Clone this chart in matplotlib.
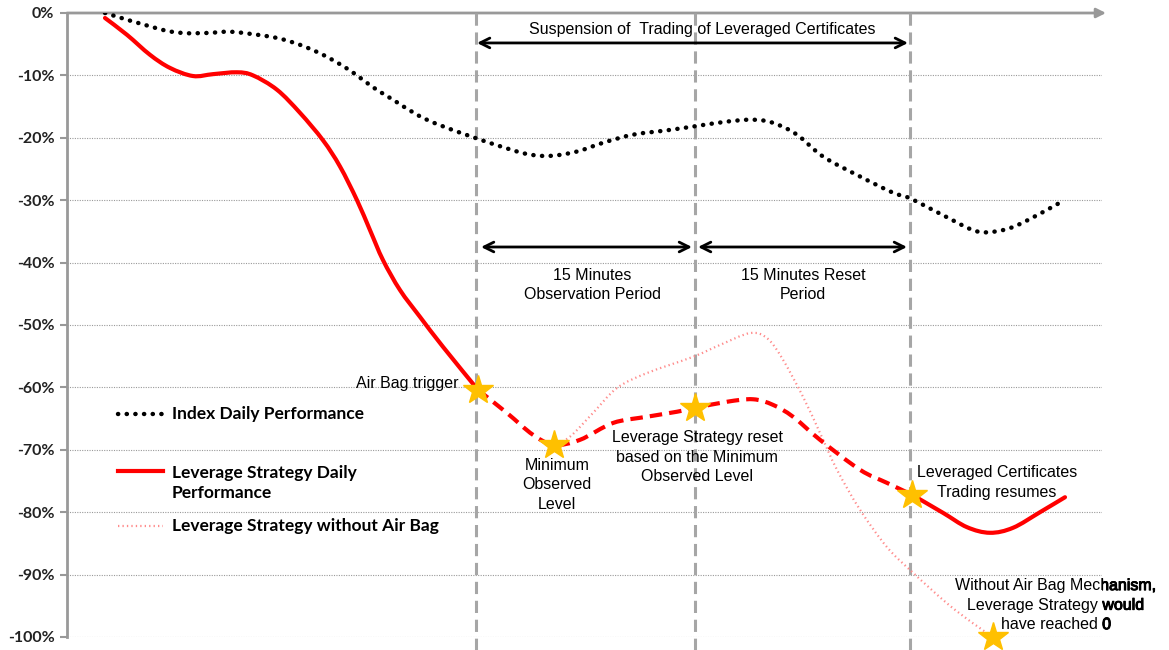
import matplotlib
matplotlib.use('Agg')
import numpy as np
import matplotlib.pyplot as plt
from matplotlib.lines import Line2D
from matplotlib.path import Path
from matplotlib.patches import PathPatch
from matplotlib.transforms import Bbox, TransformedBbox
import matplotlib.patheffects as pe

# x is a time axis in arbitrary units, y is performance in %
index_x = [105, 160, 183, 207, 230, 253, 277, 300, 323, 343, 357, 373, 393, 417, 437, 473,
           503, 527, 550, 577, 603, 633, 667, 693, 727, 753, 773, 797, 823, 860, 893, 910,
           943, 973, 990, 1013, 1043, 1063]
index_y = [0.0, -2.6, -3.2, -3.2, -3.0, -3.4, -4.0, -5.1, -6.7, -8.5, -10.0, -11.9, -13.9, -16.3, -17.8, -19.9,
           -21.5, -22.6, -22.9, -22.2, -20.8, -19.5, -18.8, -18.2, -17.4, -17.1, -17.6, -19.5, -23.0, -26.2, -28.8, -29.7,
           -32.4, -34.8, -35.1, -34.3, -31.9, -30.1]

lev_x = [105, 127, 150, 170, 193, 213, 237, 253, 277, 300, 323, 340, 357, 370, 383, 400, 420, 443, 478,
         507, 533, 554, 580, 613, 647, 677, 695, 727, 753, 773, 793, 820, 860, 887, 912,
         943, 967, 990, 1013, 1040, 1065]
lev_y = [-0.8, -3.5, -6.7, -8.8, -10.1, -9.8, -9.5, -10.0, -12.3, -16.0, -20.4, -24.6, -30.0, -34.8, -39.6, -44.4, -48.7, -53.5, -60.4,
         -64.1, -67.6, -69.2, -68.4, -65.7, -64.7, -63.9, -63.3, -62.3, -61.9, -62.8, -64.7, -68.4, -73.2, -75.3, -77.2,
         -80.1, -82.4, -83.3, -82.5, -80.0, -77.6]

noab_x = [554, 570, 593, 617, 647, 693, 720, 750, 767, 782, 803, 820, 837, 860, 887, 913, 947, 973, 993]
noab_y = [-69.2, -67.9, -64.1, -60.1, -57.7, -55.1, -53.2, -51.3, -52.1, -55.3, -61.5, -67.3, -73.2, -79.6,
          -85.6, -89.7, -94.6, -97.8, -100.0]

trigger_x, resume_x = 478, 912
event_x = [478, 554, 695, 912, 993]
event_y = [-60.4, -69.2, -63.3, -77.2, -100.0]
vlines_x = [476, 695, 910]


def smooth_path(xs, ys):
    # Excel-style smoothed line: bezier segments through the points
    p = np.column_stack([xs, ys]).astype(float)
    verts = [p[0]]
    codes = [Path.MOVETO]
    n = len(p)
    for i in range(n - 1):
        p0 = p[i - 1] if i > 0 else p[i]
        p3 = p[i + 2] if i + 2 < n else p[i + 1]
        c1 = p[i] + (p[i + 1] - p0) / 6
        c2 = p[i + 1] - (p3 - p[i]) / 6
        verts += [c1, c2, p[i + 1]]
        codes += [Path.CURVE4] * 3
    return Path(verts, codes)


def add_curve(ax, xs, ys, **kw):
    ax.add_patch(PathPatch(smooth_path(xs, ys), fill=False, **kw))


fig = plt.figure(figsize=(11.69, 6.5), dpi=100)
ax = fig.add_axes([67 / 1169, 13 / 650, 1035 / 1169, 624 / 650])
ax.set_xlim(67, 1102)
ax.set_ylim(-100, 0)

# grid
for v in range(-10, -101, -10):
    ax.axhline(v, color='#9a9a9a', lw=0.8, ls=(0, (1, 1.2)), zorder=1)
ax.annotate('', xy=(1106, 0), xytext=(67, 0), xycoords='data',
            arrowprops=dict(arrowstyle='-|>', color='#999999', lw=2, mutation_scale=14,
                            shrinkA=0, shrinkB=0), annotation_clip=False, zorder=2)

for s in ['top', 'right', 'bottom']:
    ax.spines[s].set_visible(False)
ax.spines['left'].set_color('#999999')
ax.spines['left'].set_linewidth(2)
ax.set_xticks([])
ax.set_yticks(range(0, -101, -10))
ax.set_yticklabels([f'{v}%' for v in range(0, -101, -10)], fontfamily='Lato', fontweight='bold',
                   fontsize=11.5, color='#222222')
ax.tick_params(axis='y', length=5, width=1.5, color='#999999', pad=4)

for vx in vlines_x:
    ax.plot([vx, vx], [0, -102.1], color='#a6a6a6', lw=2.2, ls=(0, (4, 2.2)), clip_on=False, zorder=2)

# series
index_style = dict(color='black', lw=3.2, ls=(0, (0.05, 1.9)), capstyle='round')
add_curve(ax, index_x, index_y, zorder=3, **index_style)

lx = np.array(lev_x)
ly = np.array(lev_y)
pre = lx <= trigger_x
mid = (lx >= trigger_x) & (lx <= resume_x)
post = lx >= resume_x
add_curve(ax, noab_x, noab_y, ec='#ff8c8c', lw=1.6, ls=(0, (0.6, 1.4)), zorder=3)
add_curve(ax, lx[pre], ly[pre], ec='#ff0000', lw=3, capstyle='round', zorder=4)
add_curve(ax, lx[mid], ly[mid], ec='#ff0000', lw=3, ls=(0, (3, 1.7)), zorder=4)
add_curve(ax, lx[post], ly[post], ec='#ff0000', lw=3, capstyle='round', zorder=4)

ax.plot(event_x, event_y, ls='none', marker='*', ms=22, color='#ffc000', mec='#ffc000', zorder=5, clip_on=False)

# arrows and annotations
arrow_kw = dict(arrowstyle='<->, head_length=0.7, head_width=0.35', color='black', lw=2, shrinkA=0, shrinkB=0)
ax.annotate('', xy=(908, -4.8), xytext=(477, -4.8), arrowprops=arrow_kw)
ax.annotate('', xy=(692, -37.5), xytext=(481, -37.5), arrowprops=arrow_kw)
ax.annotate('', xy=(907, -37.5), xytext=(698, -37.5), arrowprops=arrow_kw)

tkw = dict(fontfamily='Liberation Sans', fontsize=11.5, color='black', linespacing=1.38, zorder=6)
ax.text(702, -2.7, 'Suspension of  Trading of Leveraged Certificates', ha='center', va='center', **tkw)
ax.text(592, -43.6, '15 Minutes\nObservation Period', ha='center', va='center', **tkw)
ax.text(803, -43.6, '15 Minutes Reset\nPeriod', ha='center', va='center', **tkw)
ax.text(459, -59.3, 'Air Bag trigger', ha='right', va='center', **tkw)
ax.text(557, -75.6, 'Minimum\nObserved\nLevel', ha='center', va='center', **tkw)
ax.text(697, -71.2, 'Leverage Strategy reset\nbased on the Minimum\nObserved Level', ha='center', va='center', **tkw)
ax.text(997, -75.2, 'Leveraged Certificates\nTrading resumes', ha='center', va='center', **tkw)

msg = 'Without Air Bag Mechanism,\nLeverage Strategy would\nhave reached 0'
ax.text(1056, -94.9, msg, ha='center', va='center', clip_on=False, **tkw)
bold_part = ax.text(1056, -94.9, msg, ha='center', va='center', **tkw)
bold_part.set_path_effects([pe.withStroke(linewidth=0.7, foreground='black')])
bold_part.set_clip_box(TransformedBbox(Bbox([[1102, -110], [1300, 0]]), ax.transData))
bold_part.set_clip_on(True)

# legend drawn by hand
lkw = dict(fontfamily='Lato', fontweight='bold', fontsize=12.5, color='black', va='center', ha='left', zorder=6)
leg = [
    (-64.3, dict(color='black', lw=3.2, ls=(0, (0.05, 1.9)), dash_capstyle='round'), 'Index Daily Performance', -64.3),
    (-73.4, dict(color='#ff0000', lw=3), 'Leverage Strategy Daily\nPerformance', -75.3),
    (-82.2, dict(color='#ff8c8c', lw=1.6, ls=(0, (0.6, 1.4))), 'Leverage Strategy without Air Bag', -82.2),
]
for ypos, style, label, ty in leg:
    ax.add_line(Line2D([118, 163], [ypos, ypos], **style))
    ax.text(172, ty, label, linespacing=1.3, **lkw)

fig.savefig('out.png', dpi=100)
